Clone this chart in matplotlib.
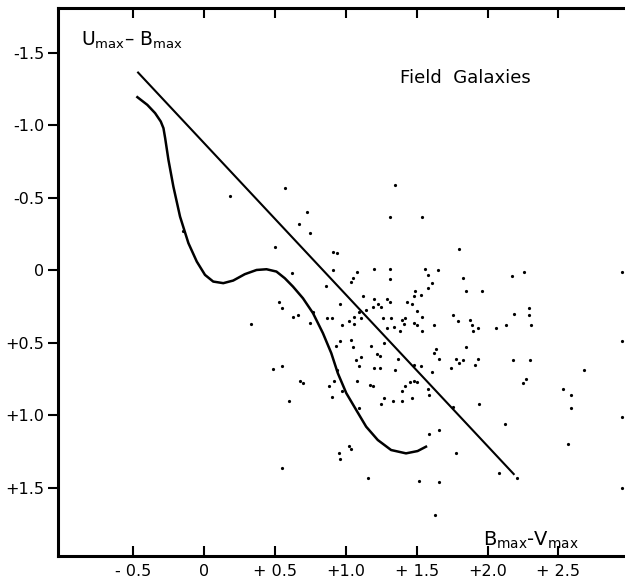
import matplotlib
matplotlib.use("Agg")
import matplotlib.pyplot as plt

# B-V and U-B colours of field galaxies
bv = [0.18, -0.15, 0.50, 0.53, 0.55, 0.33, 0.49, 0.63, 0.66, 0.75,
      0.77, 0.55, 0.68, 0.70, 0.60, 0.55, 0.57, 1.35, 0.73, 0.67,
      0.75, 1.31, 1.54, 0.91, 0.94, 0.62, 0.91, 1.08, 1.20, 1.31,
      1.56, 1.05, 1.04, 1.31, 1.58, 0.86, 1.58, 1.49, 1.12, 1.29,
      1.20, 1.31, 1.48, 1.53, 0.96, 1.23, 1.25, 1.19, 1.14, 1.43,
      1.47, 1.50, 0.87, 0.90, 1.06, 1.09, 1.11, 1.02, 1.06, 0.97,
      1.26, 1.32, 1.40, 1.42, 1.41, 1.48, 1.50, 1.54, 1.29, 1.34,
      1.38, 1.65, 1.61, 1.80, 1.83, 1.85, 1.96, 2.17, 2.26, 2.95,
      1.62, 1.76, 1.79, 1.88, 1.89, 1.93, 2.06, 2.13, 2.19, 2.29,
      2.29, 2.31, 1.54, 1.90, 1.64, 1.62, 1.66, 1.85, 1.78, 1.80,
      1.83, 1.93, 1.91, 2.18, 2.30, 1.53, 1.61, 1.74, 2.27, 2.25,
      2.68, 2.95, 1.58, 1.59, 1.76, 1.94, 2.12, 2.53, 2.59, 2.59,
      2.57, 2.95, 1.59, 1.66, 1.78, 2.08, 2.21, 1.52, 1.66, 1.63,
      2.95, 0.96, 1.04, 0.93, 1.05, 1.18, 1.27, 1.22, 1.24, 1.37,
      1.07, 1.11, 1.09, 1.20, 1.24, 1.35, 1.48, 0.94, 0.92, 1.08,
      1.17, 1.19, 0.88, 0.97, 0.90, 1.27, 1.25, 1.33, 1.40, 1.47,
      1.42, 1.40, 1.45, 1.48, 1.50, 1.09, 1.02, 1.04, 0.95, 0.96,
      1.16]
ub = [-0.51, -0.27, -0.16, 0.22, 0.26, 0.37, 0.68, 0.32, 0.31, 0.36,
      0.29, 0.66, 0.76, 0.78, 0.90, 1.36, -0.57, -0.59, -0.40, -0.32,
      -0.26, -0.37, -0.37, -0.13, -0.12, 0.02, 0.00, 0.01, -0.01, -0.01,
      -0.01, 0.05, 0.08, 0.06, 0.03, 0.11, 0.12, 0.14, 0.18, 0.20,
      0.20, 0.22, 0.18, 0.17, 0.23, 0.23, 0.25, 0.25, 0.27, 0.22,
      0.23, 0.28, 0.33, 0.33, 0.32, 0.29, 0.33, 0.35, 0.37, 0.38,
      0.33, 0.33, 0.34, 0.33, 0.37, 0.36, 0.38, 0.32, 0.40, 0.39,
      0.42, 0.00, 0.09, -0.15, 0.05, 0.14, 0.14, 0.04, 0.01, 0.01,
      0.38, 0.31, 0.35, 0.34, 0.38, 0.40, 0.40, 0.38, 0.30, 0.26,
      0.31, 0.38, 0.42, 0.42, 0.54, 0.57, 0.61, 0.53, 0.61, 0.64,
      0.62, 0.61, 0.65, 0.62, 0.62, 0.66, 0.70, 0.67, 0.75, 0.78,
      0.69, 0.49, 0.82, 0.86, 0.94, 0.92, 1.06, 0.82, 0.86, 0.95,
      1.20, 1.01, 1.13, 1.10, 1.26, 1.40, 1.43, 1.45, 1.46, 1.69,
      1.50, 0.49, 0.48, 0.52, 0.53, 0.52, 0.50, 0.58, 0.59, 0.61,
      0.62, 0.60, 0.66, 0.67, 0.67, 0.69, 0.65, 0.69, 0.76, 0.76,
      0.79, 0.80, 0.80, 0.83, 0.87, 0.88, 0.92, 0.90, 0.90, 0.88,
      0.80, 0.83, 0.77, 0.76, 0.77, 0.95, 1.21, 1.23, 1.26, 1.30,
      1.43]

# straight boundary line
line_bv = [-0.47, 2.19]
line_ub = [-1.37, 1.41]

# standard curve
curve_bv = [-0.47, -0.40, -0.345, -0.305, -0.286, -0.274, -0.251, -0.216, -0.169, -0.110,
            -0.051, 0.007, 0.065, 0.136, 0.206, 0.288, 0.371, 0.441, 0.511, 0.570,
            0.628, 0.698, 0.769, 0.839, 0.898, 0.944, 1.004, 1.074, 1.144, 1.226,
            1.320, 1.425, 1.507, 1.566]
curve_ub = [-1.195, -1.142, -1.085, -1.027, -0.981, -0.912, -0.763, -0.578, -0.371, -0.188,
            -0.061, 0.031, 0.077, 0.088, 0.070, 0.026, -0.003, -0.008, 0.008, 0.054,
            0.112, 0.192, 0.295, 0.433, 0.571, 0.709, 0.847, 0.963, 1.078, 1.170,
            1.239, 1.262, 1.246, 1.216]

xticks = [-0.5, 0, 0.5, 1.0, 1.5, 2.0, 2.5]
xlabels = ["- 0.5", "0", "+ 0.5", "+1.0", "+ 1.5", "+2.0", "+ 2.5"]
yticks = [-1.5, -1.0, -0.5, 0, 0.5, 1.0, 1.5]
ylabels = ["-1.5", "-1.0", "-0.5", "0", "+0.5", "+1.0", "+1.5"]

plt.rcParams['font.family'] = ['DejaVu Sans']
plt.rcParams['mathtext.fontset'] = 'dejavusans'

fig = plt.figure(figsize=(6.25, 5.88), dpi=100)
ax = fig.add_axes([58 / 625, 32 / 588, 1 - 58 / 625, 548 / 588])

ax.plot(line_bv, line_ub, color='black', lw=1.5, solid_capstyle='butt')
ax.plot(curve_bv, curve_ub, color='black', lw=1.8)
ax.plot(bv, ub, 'o', color='black', ms=2.3, mew=0)

ax.set_xlim(-1.03, 2.97)
ax.set_ylim(1.97, -1.81)

ax.set_xticks(xticks)
ax.set_xticklabels(xlabels, fontsize=11.5)
ax.set_yticks(yticks)
ax.set_yticklabels(ylabels, fontsize=11.5)
ax.tick_params(axis='x', direction='in', top=True, length=7, width=1.5, pad=6)
ax.tick_params(axis='y', direction='out', length=7, width=1.5, pad=3)

ax.spines['right'].set_visible(False)
for s in ['left', 'bottom', 'top']:
    ax.spines[s].set_linewidth(2.2)

ax.text(-0.87, -1.59, r'U$_{\rm max}$– B$_{\rm max}$', fontsize=13.5, va='center')
ax.text(1.38, -1.33, 'Field  Galaxies', fontsize=13, va='center')
ax.text(1.97, 1.86, r'B$_{\rm max}$-V$_{\rm max}$', fontsize=14, va='center')

fig.savefig('out.png', dpi=100)
